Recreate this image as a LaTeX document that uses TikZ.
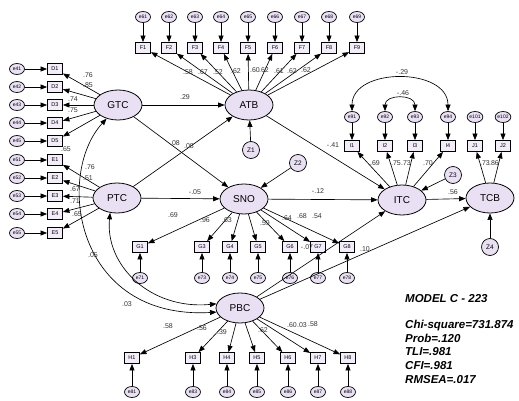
\documentclass[tikz,border=0pt]{standalone}
\usepackage{fontspec}
\setmainfont{Liberation Sans}
\usetikzlibrary{arrows.meta,shapes.geometric}

\definecolor{latfill}{RGB}{234,224,244}
\definecolor{obsfill}{RGB}{243,236,249}

\begin{document}
\begin{tikzpicture}[
    x=1pt,y=-1pt,
    Latent/.style={ellipse,draw,line width=0.8pt,fill=latfill,minimum width=48pt,minimum height=30pt,inner sep=0pt,font=\fontsize{10}{10}\selectfont},
    Item/.style={rectangle,draw,line width=0.8pt,fill=obsfill,minimum width=15pt,minimum height=11pt,inner sep=0pt,font=\fontsize{5.5}{5.5}\selectfont},
    Err/.style={ellipse,draw,line width=0.7pt,fill=latfill,minimum width=15pt,minimum height=11pt,inner sep=0pt,font=\fontsize{5}{5}\selectfont},
    Dist/.style={circle,draw,line width=0.7pt,fill=latfill,minimum size=17pt,inner sep=0pt,font=\fontsize{6.5}{6.5}\selectfont},
    Line/.style={-{Triangle[length=6.5pt,width=5pt]},line width=0.65pt},
    Cov/.style={{Triangle[length=6.5pt,width=5pt]}-{Triangle[length=6.5pt,width=5pt]},line width=0.65pt},
    Coef/.style={inner sep=0pt,text=black!80,font=\fontsize{7}{7}\selectfont},
    Fit/.style={inner sep=0pt,anchor=west,align=left,font=\bfseries\itshape\fontsize{11.5}{13.7}\selectfont},
    ]
    \useasboundingbox (0,0) rectangle (519,401);

    % latent variables
    \node[Latent] (GTC) at (118,105) {GTC};
    \node[Latent] (PTC) at (117,198) {PTC};
    \node[Latent] (ATB) at (249,105) {ATB};
    \node[Latent] (SNO) at (244,199) {SNO};
    \node[Latent] (ITC) at (402,200) {ITC};
    \node[Latent] (TCB) at (490,198) {TCB};
    \node[Latent] (PBC) at (240,308) {PBC};

    % disturbances
    \node[Dist] (Z1) at (251,150) {Z1};
    \node[Dist] (Z2) at (298,163) {Z2};
    \node[Dist] (Z3) at (453,175) {Z3};
    \node[Dist] (Z4) at (490,247) {Z4};

    % GTC and PTC items
    \node[Item] (D1) at (55,69)  {D1};
    \node[Item] (D2) at (55,87)  {D2};
    \node[Item] (D3) at (55,105) {D3};
    \node[Item] (D4) at (55,123) {D4};
    \node[Item] (D5) at (55,141) {D5};
    \node[Item] (E1) at (55,160) {E1};
    \node[Item] (E2) at (55,178) {E2};
    \node[Item] (E3) at (55,196) {E3};
    \node[Item] (E4) at (55,214) {E4};
    \node[Item] (E5) at (55,233) {E5};
    \node[Err] (e41) at (17,69)  {e41};
    \node[Err] (e42) at (17,87)  {e42};
    \node[Err] (e43) at (17,105) {e43};
    \node[Err] (e44) at (17,123) {e44};
    \node[Err] (e45) at (17,141) {e45};
    \node[Err] (e51) at (17,160) {e51};
    \node[Err] (e52) at (17,178) {e52};
    \node[Err] (e53) at (17,196) {e53};
    \node[Err] (e54) at (17,214) {e54};
    \node[Err] (e55) at (17,233) {e55};

    % ATB items
    \node[Item] (F1) at (143,48) {F1};
    \node[Item] (F2) at (169,48) {F2};
    \node[Item] (F3) at (195,48) {F3};
    \node[Item] (F4) at (221,48) {F4};
    \node[Item] (F5) at (248,48) {F5};
    \node[Item] (F6) at (275,48) {F6};
    \node[Item] (F7) at (302,48) {F7};
    \node[Item] (F8) at (329,48) {F8};
    \node[Item] (F9) at (357,48) {F9};
    \node[Err] (e61) at (143,17) {e61};
    \node[Err] (e62) at (169,17) {e62};
    \node[Err] (e63) at (195,17) {e63};
    \node[Err] (e64) at (221,17) {e64};
    \node[Err] (e65) at (248,17) {e65};
    \node[Err] (e66) at (275,17) {e66};
    \node[Err] (e67) at (302,17) {e67};
    \node[Err] (e68) at (329,17) {e68};
    \node[Err] (e69) at (357,17) {e69};

    % ITC and TCB items
    \node[Item] (I1) at (352,146) {I1};
    \node[Item] (I2) at (385,146) {I2};
    \node[Item] (I3) at (415,146) {I3};
    \node[Item] (I4) at (448,146) {I4};
    \node[Item] (J1) at (475,146) {J1};
    \node[Item] (J2) at (503,146) {J2};
    \node[Err] (e91)  at (352,117) {e91};
    \node[Err] (e92)  at (385,117) {e92};
    \node[Err] (e93)  at (415,117) {e93};
    \node[Err] (e94)  at (448,117) {e94};
    \node[Err] (e101) at (475,117) {e101};
    \node[Err] (e102) at (503,117) {e102};

    % SNO items
    \node[Item] (G1) at (140,247) {G1};
    \node[Item] (G3) at (202,247) {G3};
    \node[Item] (G4) at (230,247) {G4};
    \node[Item] (G5) at (258,247) {G5};
    \node[Item] (G6) at (290,247) {G6};
    \node[Item] (G7) at (318,247) {G7};
    \node[Item] (G8) at (347,247) {G8};
    \node[Err] (e71) at (140,278) {e71};
    \node[Err] (e73) at (202,278) {e73};
    \node[Err] (e74) at (230,278) {e74};
    \node[Err] (e75) at (258,278) {e75};
    \node[Err] (e76) at (290,278) {e76};
    \node[Err] (e77) at (318,278) {e77};
    \node[Err] (e78) at (347,278) {e78};

    % PBC items
    \node[Item] (H1) at (132,358) {H1};
    \node[Item] (H3) at (193,358) {H3};
    \node[Item] (H4) at (227,358) {H4};
    \node[Item] (H5) at (257,358) {H5};
    \node[Item] (H6) at (288,358) {H6};
    \node[Item] (H7) at (318,358) {H7};
    \node[Item] (H8) at (348,358) {H8};
    \node[Err] (e81) at (132,392) {e81};
    \node[Err] (e83) at (193,392) {e83};
    \node[Err] (e84) at (227,392) {e84};
    \node[Err] (e85) at (257,392) {e85};
    \node[Err] (e86) at (288,392) {e86};
    \node[Err] (e87) at (318,392) {e87};
    \node[Err] (e88) at (348,392) {e88};

    % error arrows
    \draw[Line] (e41) -- (D1);  \draw[Line] (e42) -- (D2);  \draw[Line] (e43) -- (D3);
    \draw[Line] (e44) -- (D4);  \draw[Line] (e45) -- (D5);  \draw[Line] (e51) -- (E1);
    \draw[Line] (e52) -- (E2);  \draw[Line] (e53) -- (E3);  \draw[Line] (e54) -- (E4);
    \draw[Line] (e55) -- (E5);
    \draw[Line] (e61) -- (F1);  \draw[Line] (e62) -- (F2);  \draw[Line] (e63) -- (F3);
    \draw[Line] (e64) -- (F4);  \draw[Line] (e65) -- (F5);  \draw[Line] (e66) -- (F6);
    \draw[Line] (e67) -- (F7);  \draw[Line] (e68) -- (F8);  \draw[Line] (e69) -- (F9);
    \draw[Line] (e91) -- (I1);  \draw[Line] (e92) -- (I2);  \draw[Line] (e93) -- (I3);
    \draw[Line] (e94) -- (I4);  \draw[Line] (e101) -- (J1); \draw[Line] (e102) -- (J2);
    \draw[Line] (e71) -- (G1);  \draw[Line] (e73) -- (G3);  \draw[Line] (e74) -- (G4);
    \draw[Line] (e75) -- (G5);  \draw[Line] (e76) -- (G6);  \draw[Line] (e77) -- (G7);
    \draw[Line] (e78) -- (G8);
    \draw[Line] (e81) -- (H1);  \draw[Line] (e83) -- (H3);  \draw[Line] (e84) -- (H4);
    \draw[Line] (e85) -- (H5);  \draw[Line] (e86) -- (H6);  \draw[Line] (e87) -- (H7);
    \draw[Line] (e88) -- (H8);

    % loadings
    \draw[Line] (GTC) -- (D1);  \draw[Line] (GTC) -- (D2);  \draw[Line] (GTC) -- (D3);
    \draw[Line] (GTC) -- (D4);  \draw[Line] (GTC) -- (D5);
    \draw[Line] (PTC) -- (E1);  \draw[Line] (PTC) -- (E2);  \draw[Line] (PTC) -- (E3);
    \draw[Line] (PTC) -- (E4);  \draw[Line] (PTC) -- (E5);
    \draw[Line] (ATB) -- (F1);  \draw[Line] (ATB) -- (F2);  \draw[Line] (ATB) -- (F3);
    \draw[Line] (ATB) -- (F4);  \draw[Line] (ATB) -- (F5);  \draw[Line] (ATB) -- (F6);
    \draw[Line] (ATB) -- (F7);  \draw[Line] (ATB) -- (F8);  \draw[Line] (ATB) -- (F9);
    \draw[Line] (ITC) -- (I1);  \draw[Line] (ITC) -- (I2);  \draw[Line] (ITC) -- (I3);
    \draw[Line] (ITC) -- (I4);  \draw[Line] (TCB) -- (J1);  \draw[Line] (TCB) -- (J2);
    \draw[Line] (SNO) -- (G1);  \draw[Line] (SNO) -- (G3);  \draw[Line] (SNO) -- (G4);
    \draw[Line] (SNO) -- (G5);  \draw[Line] (SNO) -- (G6);  \draw[Line] (SNO) -- (G7);
    \draw[Line] (SNO) -- (G8);
    \draw[Line] (PBC) -- (H1);  \draw[Line] (PBC) -- (H3);  \draw[Line] (PBC) -- (H4);
    \draw[Line] (PBC) -- (H5);  \draw[Line] (PBC) -- (H6);  \draw[Line] (PBC) -- (H7);
    \draw[Line] (PBC) -- (H8);

    % structural paths
    \draw[Line] (GTC) -- (ATB);
    \draw[Line] (GTC) -- (SNO);
    \draw[Line] (PTC) -- (ATB);
    \draw[Line] (PTC) -- (SNO);
    \draw[Line] (ATB) -- (ITC);
    \draw[Line] (SNO) -- (ITC);
    \draw[Line] (ITC) -- (TCB);
    \draw[Line] (PBC) -- (ITC);
    \draw[Line] (PBC) -- (TCB);
    \draw[Line] (Z1) -- (ATB);
    \draw[Line] (Z2) -- (SNO);
    \draw[Line] (Z3) -- (ITC);
    \draw[Line] (Z4) -- (TCB);

    % covariances
    \draw[Cov] (GTC.230) .. controls (55,175) and (75,320) .. (PBC.190);
    \draw[Cov] (PTC.245) .. controls (105,265) and (150,310) .. (PBC.170);
    \draw[Cov] (e91.north) .. controls (352,67) and (448,67) .. (e94.north);
    \draw[Cov] (e92.north) .. controls (385,94) and (415,94) .. (e93.north);

    % coefficients
    \node[Coef] (kD1) at (88,75)  {.76};
    \node[Coef] (kD2) at (88,85)  {.85};
    \node[Coef] (kD3) at (73,99)  {.74};
    \node[Coef] (kD4) at (73,110) {.75};
    \node[Coef] (kD5) at (66,149) {.65};
    \node[Coef] (kE1) at (90,167) {.76};
    \node[Coef] (kE2) at (88,178) {.51};
    \node[Coef] (kE3) at (75,189) {.67};
    \node[Coef] (kE4) at (75,201) {.71};
    \node[Coef] (kE5) at (77,214) {.65};
    \node[Coef] (kF1) at (188,72) {.58};
    \node[Coef] (kF2) at (203,72) {.67};
    \node[Coef] (kF3) at (218,72) {.52};
    \node[Coef] (kF4) at (236,71) {.62};
    \node[Coef] (kF5) at (255,70) {.60};
    \node[Coef] (kF6) at (264,70) {.62};
    \node[Coef] (kF7) at (279,71) {.61};
    \node[Coef] (kF8) at (292,71) {.62};
    \node[Coef] (kF9) at (306,70) {.62};
    \node[Coef] (kI1) at (375,163) {.69};
    \node[Coef] (kI2) at (396,163) {.75};
    \node[Coef] (kI3) at (406,163) {.73};
    \node[Coef] (kI4) at (428,163) {.70};
    \node[Coef] (kJ1) at (485,163) {.73};
    \node[Coef] (kJ2) at (494,163) {.86};
    \node[Coef] (kG1) at (173,215) {.69};
    \node[Coef] (kG3) at (205,220) {.96};
    \node[Coef] (kG4) at (227,220) {.63};
    \node[Coef] (kG5) at (265,223) {.59};
    \node[Coef] (kG6) at (287,218) {.64};
    \node[Coef] (kG7) at (302,216) {.68};
    \node[Coef] (kG8) at (317,216) {.54};
    \node[Coef] (kH1) at (168,326) {.58};
    \node[Coef] (kH3) at (202,328) {.56};
    \node[Coef] (kH4) at (222,332) {.39};
    \node[Coef] (kH5) at (263,330) {.62};
    \node[Coef] (kH6) at (292,325) {.60};
    \node[Coef] (kH7) at (302,325) {.03};
    \node[Coef] (kH8) at (313,324) {.58};
    \node[Coef] (kGA) at (185,97)  {.29};
    \node[Coef] (kGS) at (175,143) {.08};
    \node[Coef] (kPA) at (189,146) {.08};
    \node[Coef] (kPS) at (195,192) {-.05};
    \node[Coef] (kAI) at (333,145) {-.41};
    \node[Coef] (kSI) at (318,191) {-.12};
    \node[Coef] (kIT) at (453,192) {.56};
    \node[Coef] (kBI) at (307,247) {-.07};
    \node[Coef] (kBT) at (365,249) {.10};
    \node[Coef] (kGB) at (93,255)  {.05};
    \node[Coef] (kPB) at (127,304) {.03};
    \node[Coef] (k94) at (402,72)  {-.29};
    \node[Coef] (k93) at (403,93)  {-.46};

    % fit indices
    \node[Fit] (title) at (405,299) {MODEL C - 223};
    \node[Fit,anchor=north west] (fit) at (405,320) {Chi-square=731.874\\Prob=.120\\TLI=.981\\CFI=.981\\RMSEA=.017};
  \end{tikzpicture}
\end{document}
